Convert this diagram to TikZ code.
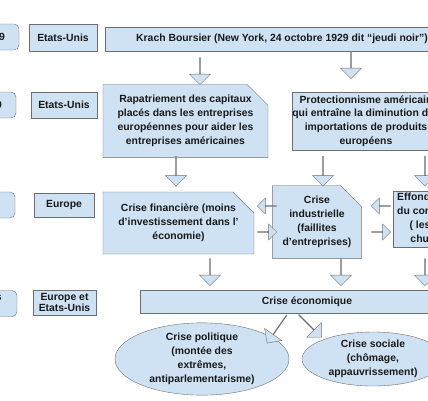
\documentclass[tikz,border=0pt]{standalone}
\usepackage{fontspec}
\setmainfont{Liberation Sans}
\usetikzlibrary{shapes.misc, shapes.arrows, shapes.geometric}
\definecolor{boxblue}{HTML}{CFE2F3}
\definecolor{boxline}{HTML}{6E6E6E}
\tikzset{
  box/.style={draw=boxline, fill=boxblue, inner sep=0pt, align=center, text=black!90,
    font=\bfseries\fontsize{10.4}{13.8}\selectfont},
  yearbox/.style={box, rounded corners=5pt, text width=40pt, inner xsep=14pt, align=right, minimum height=26pt},
  snipbox/.style={box, chamfered rectangle, chamfered rectangle corners=north east,
    chamfered rectangle xsep=10pt, chamfered rectangle ysep=11pt},
  bigarrow/.style={single arrow, draw=boxline, fill=boxblue, inner sep=0pt,
    minimum width=21pt, single arrow head extend=5.5pt, minimum height=27pt},
  sidearrow/.style={bigarrow, minimum width=16pt, single arrow head extend=4pt, minimum height=19pt},
}
\begin{document}
\begin{tikzpicture}[x=1pt, y=-1pt]
  \useasboundingbox (0,0) rectangle (428,400);
  \clip (0,0) rectangle (428,400);

  % dates
  \node[yearbox] (yr1) at (-15,37) {1929};
  \node[yearbox] (yr2) at (-18,105) {1930};
  \node[yearbox] (yr3) at (-19,205) {};
  \node[yearbox, align=center] (yr4) at (-17,303.5) {Années\\1930};

  % lieux
  \node[box, minimum width=68pt, minimum height=27pt] (lieu1) at (63,37.5) {Etats-Unis};
  \node[box, minimum width=66pt, minimum height=26pt] (lieu2) at (64,105) {Etats-Unis};
  \node[box, minimum width=60pt, minimum height=24pt] (lieu3) at (64,205) {Europe};
  \node[box, minimum width=63pt, minimum height=25pt, font=\bfseries\fontsize{10.4}{11.5}\selectfont]
    (lieu4) at (64.5,302.5) {Europe et\\Etats-Unis};

  % evenements
  \node[box, minimum width=354pt, minimum height=24pt] (krach) at (282,39)
    {Krach Boursier (New York, 24 octobre 1929 dit “jeudi noir”)};
  \node[snipbox, minimum width=165pt, minimum height=58pt] (rapat) at (185.5,121)
    {Rapatriement des capitaux\\placés dans les entreprises\\européennes pour aider les\\entreprises américaines};
  \node[box, minimum width=134pt, minimum height=58pt] (protec) at (366,121)
    {Protectionnisme américain\\qui entraîne la diminution des\\importations de produits\\européens};
  \node[snipbox, minimum width=151pt, minimum height=62pt] (financ) at (178.5,223)
    {Crise financière (moins\\d’investissement dans l’\\économie)};
  \node[snipbox, minimum width=76pt, minimum height=62pt] (indus) at (317,222)
    {Crise\\industrielle\\(faillites\\d’entreprises)};
  \node[box, minimum width=76pt, minimum height=56pt] (effond) at (431,219)
    {Effondrement\\du commerce\\( les prix\\chutent)};
  \node[box, minimum width=334pt, minimum height=23pt] (econ) at (307,301.5) {Crise économique};
  \node[box, ellipse, minimum width=174pt, minimum height=52pt] (polit) at (202,359)
    {Crise politique\\(montée des\\extrêmes,\\antiparlementarisme)};
  \node[box, ellipse, minimum width=142pt, minimum height=54pt] (social) at (373,359)
    {Crise sociale\\(chômage,\\appauvrissement)};

  % fleches
  \node[bigarrow, rotate=-90] (f1) at (200,71) {};
  \node[bigarrow, rotate=-90] (f2) at (351,65) {};
  \node[bigarrow, rotate=-90, minimum height=30pt] (f3) at (176,171) {};
  \node[bigarrow, rotate=-90, minimum height=30pt] (f4) at (323,171) {};
  \node[bigarrow, rotate=-90, minimum height=30pt] (f5) at (425,171) {};
  \node[sidearrow, rotate=180] (f6) at (267,206) {};
  \node[sidearrow] (f7) at (267,232) {};
  \node[sidearrow, rotate=180] (f8) at (381,206) {};
  \node[sidearrow] (f9) at (381,232) {};
  \node[bigarrow, rotate=-90] (f10) at (210,272) {};
  \node[bigarrow, rotate=-90] (f11) at (341,272) {};
  \node[bigarrow, rotate=-90] (f12) at (425,272) {};
  \node[bigarrow, rotate=235, minimum height=34pt] (f13) at (277,329) {};
  \node[bigarrow, rotate=-45, minimum height=32pt] (f14) at (310,326) {};
\end{tikzpicture}
\end{document}
